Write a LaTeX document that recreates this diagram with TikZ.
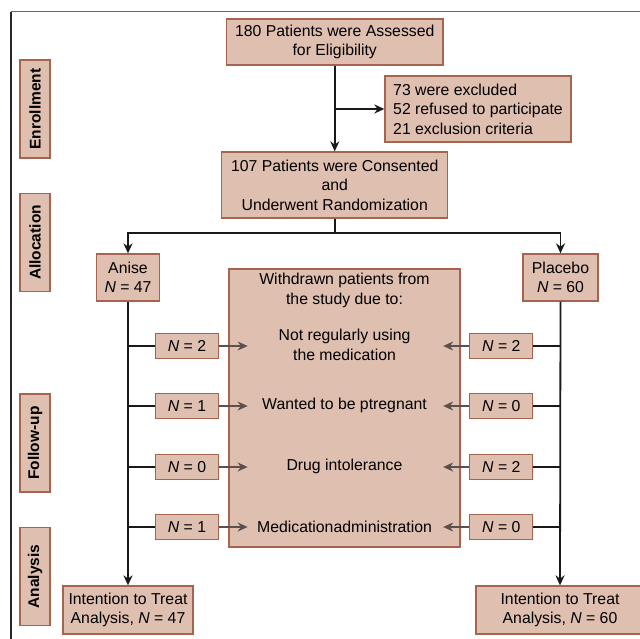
\documentclass[tikz,border=0pt]{standalone}
\usepackage{fontspec}
\setmainfont{Liberation Sans}
\usetikzlibrary{arrows.meta}
\definecolor{boxfill}{HTML}{DFBFB0}
\definecolor{boxline}{HTML}{A4644E}
\definecolor{garrow}{HTML}{5A5050}
\tikzset{
  box/.style={draw=boxline, fill=boxfill, line width=1.3pt, inner sep=0pt,
    align=center, font=\fontsize{15.8}{19.5}\selectfont},
  side/.style={draw=boxline, fill=boxfill, line width=1.3pt, inner sep=0pt,
    minimum width=98pt, minimum height=30pt, rotate=90,
    font=\fontsize{15.5}{18}\selectfont\bfseries},
  ctext/.style={align=center, inner sep=0pt, font=\fontsize{15.8}{19.5}\selectfont},
  nbox/.style={box, minimum width=63pt, minimum height=25pt},
  line/.style={line width=1.8pt, black!90},
  arr/.style={line, -{Stealth[length=10pt,width=9pt]}},
  garr/.style={line width=1.6pt, garrow, -{Stealth[length=10pt,width=9pt]}},
}
\begin{document}
\begin{tikzpicture}[x=1pt,y=-1pt]
\useasboundingbox (0,0) rectangle (640,639);
% frame
\draw[gray!80!black, line width=1pt] (11,12) -- (641,12);
\draw[black!85, line width=1.5pt] (11,12) -- (11,640);
% side labels
\node[side] (s1) at (35,109) {Enrollment};
\node[side] (s2) at (35,242.5) {Allocation};
\node[side] (s3) at (35,443) {Follow-up};
\node[side] (s4) at (35,576.5) {Analysis};
% main boxes
\node[box, minimum width=216.5pt, minimum height=46pt] (b1) at (334.75,42) {180 Patients were Assessed\\for Eligibility};
\node[box, minimum width=186pt, minimum height=66pt, align=left] (ex) at (478,109) {73 were excluded\\52 refused to participate\\21 exclusion criteria};
\node[box, minimum width=226pt, minimum height=66pt] (b2) at (334.75,185) {107 Patients were Consented\\and\\Underwent Randomization};
\node[box, minimum width=62.5pt, minimum height=47pt] (an) at (128,277.5) {Anise\\\textit{N} = 47};
\node[box, minimum width=75pt, minimum height=47pt] (pl) at (560.5,277.5) {Placebo\\\textit{N} = 60};
\node[box, minimum width=231pt, minimum height=278pt] (wd) at (344.5,408) {};
\node[ctext] (t0) at (344.5,290.5) {Withdrawn patients from\\the study due to:};
\node[ctext] (t1) at (344.5,345) {Not regularly using\\the medication};
\node[ctext] (t2) at (344.5,405.5) {Wanted to be ptregnant};
\node[ctext] (t3) at (344.5,466.5) {Drug intolerance};
\node[ctext] (t4) at (344.5,526.5) {Medicationadministration};
% N boxes
\node[nbox] (l1) at (187,346) {\textit{N} = 2};
\node[nbox] (l2) at (187,406) {\textit{N} = 1};
\node[nbox] (l3) at (187,467) {\textit{N} = 0};
\node[nbox] (l4) at (187,527) {\textit{N} = 1};
\node[nbox] (r1) at (501.3,346) {\textit{N} = 2};
\node[nbox] (r2) at (501.3,406) {\textit{N} = 0};
\node[nbox] (r3) at (501.3,467) {\textit{N} = 2};
\node[nbox] (r4) at (501.3,527) {\textit{N} = 0};
% ITT
\node[box, minimum width=130pt, minimum height=48pt] (i1) at (128,610) {Intention to Treat\\Analysis, \textit{N} = 47};
\node[box, minimum width=168pt, minimum height=48pt] (i2) at (560,610) {Intention to Treat\\Analysis, \textit{N} = 60};
% connectors
\coordinate (j1) at (b1.south |- ex.west);
\draw[arr] (b1.south) -- (b2.north);
\draw[arr] (j1) -- (ex.west);
\coordinate (sp) at (334.75,233);
\draw[line] (b2.south) -- (sp);
\draw[arr] (sp) -| (an.north);
\draw[arr] (sp) -| (pl.north);
\draw[arr] (an.south) -- (i1.north);
\draw[arr] (pl.south) -- (i2.north);
\foreach \k in {1,2,3,4}{
  \draw[line] (an.south |- l\k.west) -- (l\k.west);
  \draw[line] (pl.south |- r\k.east) -- (r\k.east);
  \coordinate (la\k) at ([xshift=28.5pt]l\k.east);
  \coordinate (ra\k) at ([xshift=-26pt]r\k.west);
  \draw[garr] (l\k.east) -- (la\k);
  \draw[garr] (r\k.west) -- (ra\k);
}
\end{tikzpicture}
\end{document}
